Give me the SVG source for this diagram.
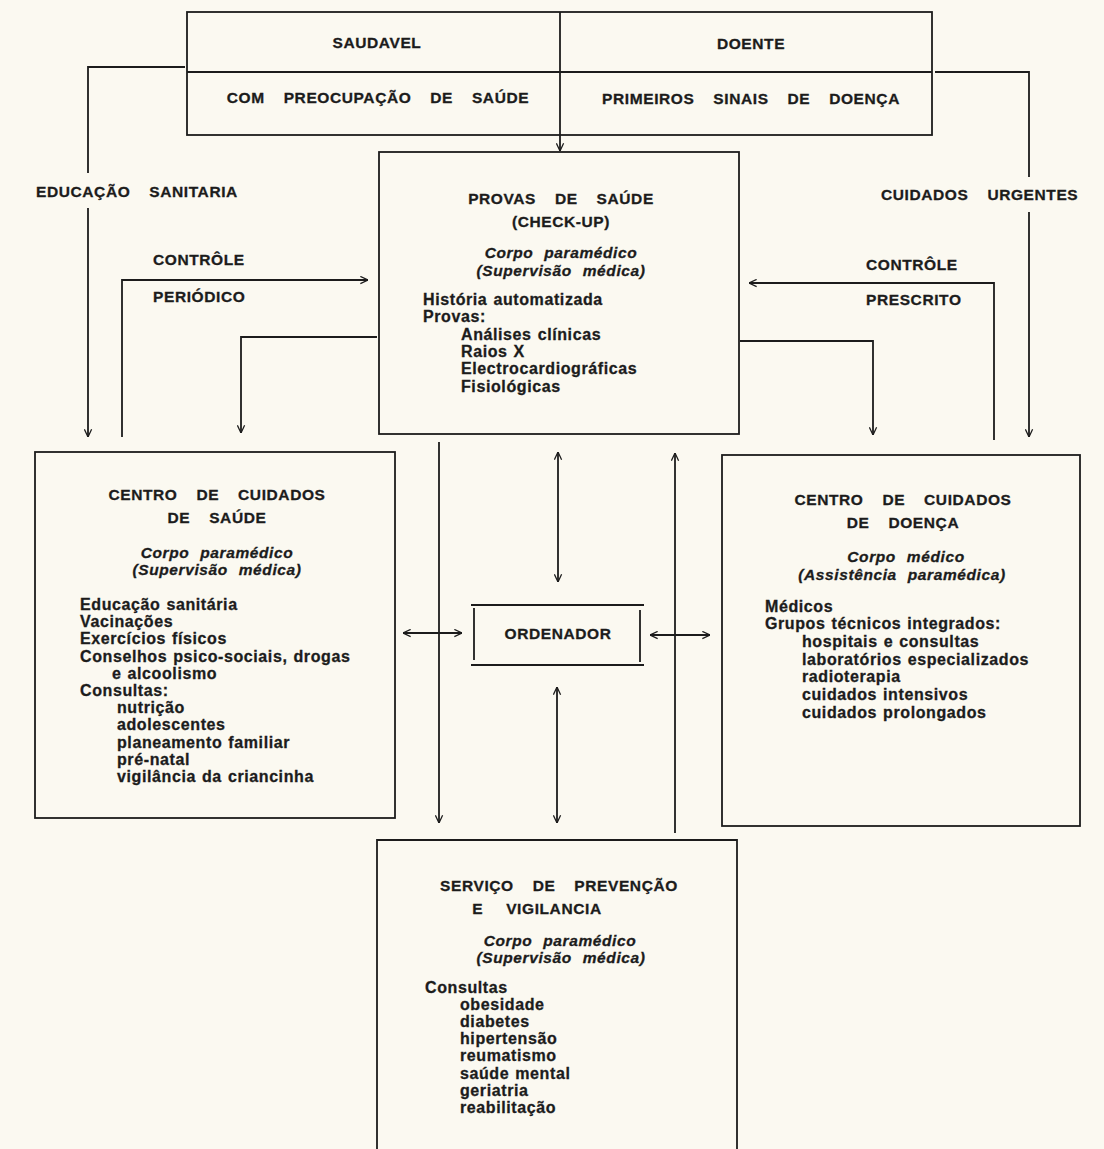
<svg xmlns="http://www.w3.org/2000/svg" width="1104" height="1149" viewBox="0 0 1104 1149">
<defs>
<style>
.bg{fill:#fbf9f1}
.ln{fill:none;stroke:#1c1c1c;stroke-width:1.8}
text{font-family:"Liberation Sans",Arial,sans-serif;fill:#1c1c1c;stroke:#1c1c1c;stroke-width:0.3;font-weight:bold}
.h{font-size:15.5px;letter-spacing:0.6px;word-spacing:14px;text-anchor:middle}
.hl{font-size:15.5px;letter-spacing:0.6px;word-spacing:14px}
.i{font-size:15.5px;font-style:italic;letter-spacing:0.6px;word-spacing:6px;text-anchor:middle}
.b{font-size:16px;letter-spacing:0.6px;word-spacing:1px}
</style>
<marker id="ah" viewBox="0 0 10 10" refX="9.5" refY="5" markerWidth="9" markerHeight="9" markerUnits="userSpaceOnUse" orient="auto-start-reverse">
<path d="M1,1 L9.5,5 L1,9" fill="none" stroke="#1c1c1c" stroke-width="1.4"/>
</marker>
</defs>
<rect class="bg" x="0" y="0" width="1104" height="1149"/>

<g id="estado">
<rect class="ln" x="187" y="12" width="745" height="123"/>
<line class="ln" x1="560" y1="12" x2="560" y2="135"/>
<line class="ln" x1="187" y1="72" x2="932" y2="72"/>
<text class="h" x="377" y="48">SAUDAVEL</text>
<text class="h" x="751" y="49">DOENTE</text>
<text class="h" x="378" y="103">COM PREOCUPAÇÃO DE SAÚDE</text>
<text class="h" x="751" y="104">PRIMEIROS SINAIS DE DOENÇA</text>
</g>

<g id="checkup">
<rect class="ln" x="379" y="152" width="360" height="282"/>
<text class="h" x="561" y="204">PROVAS DE SAÚDE</text>
<text class="h" x="561" y="227">(CHECK-UP)</text>
<text class="i" x="561" y="258">Corpo paramédico</text>
<text class="i" x="561" y="276">(Supervisão médica)</text>
<text class="b" x="423" y="305">História automatizada</text>
<text class="b" x="423" y="322">Provas:</text>
<text class="b" x="461" y="340">Análises clínicas</text>
<text class="b" x="461" y="357">Raios X</text>
<text class="b" x="461" y="374">Electrocardiográficas</text>
<text class="b" x="461" y="392">Fisiológicas</text>
</g>

<g id="centro-saude">
<rect class="ln" x="35" y="452" width="360" height="366"/>
<text class="h" x="217" y="500">CENTRO DE CUIDADOS</text>
<text class="h" x="217" y="523">DE SAÚDE</text>
<text class="i" x="217" y="558">Corpo paramédico</text>
<text class="i" x="217" y="575">(Supervisão médica)</text>
<text class="b" x="80" y="610">Educação sanitária</text>
<text class="b" x="80" y="627">Vacinações</text>
<text class="b" x="80" y="644">Exercícios físicos</text>
<text class="b" x="80" y="662">Conselhos psico-sociais, drogas</text>
<text class="b" x="112" y="679">e alcoolismo</text>
<text class="b" x="80" y="696">Consultas:</text>
<text class="b" x="117" y="713">nutrição</text>
<text class="b" x="117" y="730">adolescentes</text>
<text class="b" x="117" y="748">planeamento familiar</text>
<text class="b" x="117" y="765">pré-natal</text>
<text class="b" x="117" y="782">vigilância da criancinha</text>
</g>

<g id="centro-doenca">
<rect class="ln" x="722" y="455" width="358" height="371"/>
<text class="h" x="903" y="505">CENTRO DE CUIDADOS</text>
<text class="h" x="903" y="528">DE DOENÇA</text>
<text class="i" x="906" y="562">Corpo médico</text>
<text class="i" x="902" y="580">(Assistência paramédica)</text>
<text class="b" x="765" y="612">Médicos</text>
<text class="b" x="765" y="629">Grupos técnicos integrados:</text>
<text class="b" x="802" y="647">hospitais e consultas</text>
<text class="b" x="802" y="665">laboratórios especializados</text>
<text class="b" x="802" y="682">radioterapia</text>
<text class="b" x="802" y="700">cuidados intensivos</text>
<text class="b" x="802" y="718">cuidados prolongados</text>
</g>

<g id="ordenador">
<line class="ln" x1="471" y1="605" x2="644" y2="605"/>
<line class="ln" x1="471" y1="665" x2="644" y2="665"/>
<line class="ln" x1="474" y1="608" x2="474" y2="660"/>
<line class="ln" x1="640" y1="610" x2="640" y2="662"/>
<text class="h" x="558" y="639">ORDENADOR</text>
</g>

<g id="servico-prevencao">
<path class="ln" d="M377,1149 V840 H737 V1149"/>
<text class="h" x="559" y="891">SERVIÇO DE PREVENÇÃO</text>
<text class="h" x="537" y="914" style="word-spacing:18px">E VIGILANCIA</text>
<text class="i" x="560" y="946">Corpo paramédico</text>
<text class="i" x="561" y="963">(Supervisão médica)</text>
<text class="b" x="425" y="993">Consultas</text>
<text class="b" x="460" y="1010">obesidade</text>
<text class="b" x="460" y="1027">diabetes</text>
<text class="b" x="460" y="1044">hipertensão</text>
<text class="b" x="460" y="1061">reumatismo</text>
<text class="b" x="460" y="1079">saúde mental</text>
<text class="b" x="460" y="1096">geriatria</text>
<text class="b" x="460" y="1113">reabilitação</text>
</g>

<g id="connectors">
<line class="ln" x1="560" y1="135" x2="560" y2="151" marker-end="url(#ah)"/>
<path class="ln" d="M185,67 H88 V173"/>
<line class="ln" x1="88" y1="208" x2="88" y2="437" marker-end="url(#ah)"/>
<path class="ln" d="M935,72 H1029 V177"/>
<line class="ln" x1="1029" y1="212" x2="1029" y2="437" marker-end="url(#ah)"/>
<path class="ln" d="M122,437 V280 H368" marker-end="url(#ah)"/>
<path class="ln" d="M994,440 V283 H749" marker-end="url(#ah)"/>
<path class="ln" d="M377,337 H241 V433" marker-end="url(#ah)"/>
<path class="ln" d="M740,341 H873 V435" marker-end="url(#ah)"/>
<line class="ln" x1="439" y1="442" x2="439" y2="823" marker-end="url(#ah)"/>
<line class="ln" x1="675" y1="833" x2="675" y2="453" marker-end="url(#ah)"/>
<line class="ln" x1="558" y1="452" x2="558" y2="582" marker-start="url(#ah)" marker-end="url(#ah)"/>
<line class="ln" x1="557" y1="687" x2="557" y2="823" marker-start="url(#ah)" marker-end="url(#ah)"/>
<line class="ln" x1="403" y1="633" x2="462" y2="633" marker-start="url(#ah)" marker-end="url(#ah)"/>
<line class="ln" x1="650" y1="635" x2="710" y2="635" marker-start="url(#ah)" marker-end="url(#ah)"/>
<text class="hl" x="36" y="197">EDUCAÇÃO SANITARIA</text>
<text class="hl" x="881" y="200">CUIDADOS URGENTES</text>
<text class="hl" x="153" y="265">CONTRÔLE</text>
<text class="hl" x="153" y="302">PERIÓDICO</text>
<text class="hl" x="866" y="270">CONTRÔLE</text>
<text class="hl" x="866" y="305">PRESCRITO</text>
</g>
</svg>
